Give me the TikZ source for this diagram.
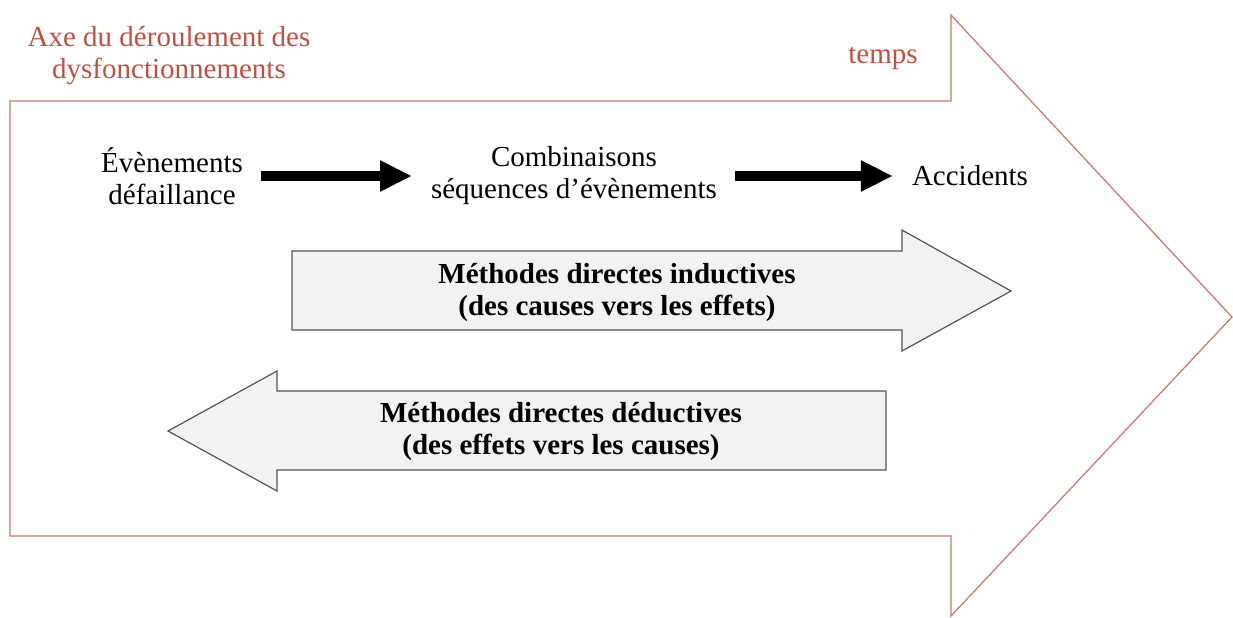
\documentclass[tikz,border=0pt]{standalone}
\usepackage{fontspec}
\setmainfont{Liberation Serif}
\usetikzlibrary{arrows.meta}
\definecolor{axerouge}{RGB}{196,78,62}
\definecolor{traitaxe}{RGB}{208,115,100}
\definecolor{fondfleche}{RGB}{242,242,242}
\definecolor{bordfleche}{RGB}{85,85,85}
\begin{document}
\begin{tikzpicture}[x=0.5pt,y=-0.5pt]
\tikzstyle{fleche}=[-{Triangle[length=16pt,width=14.5pt]},line width=5pt,shorten <=5.5pt,shorten >=6pt]
\tikzset{etape/.style={align=center,font=\fontsize{14.5}{16}\selectfont},
titre/.style={etape,text=axerouge},
methode/.style={etape,font=\fontsize{14.5}{16}\selectfont\bfseries},
bloc/.style={draw=bordfleche,fill=fondfleche,line width=0.6pt}}
\useasboundingbox (0,0) rectangle (1233,617);

% grande fleche du temps
\draw[traitaxe,line width=0.6pt] (10,101) -- (951,101) -- (951,15) -- (1232,317) -- (951,616) -- (951,536) -- (10,536) -- cycle;
\node[titre] (axe) at (169,56) {Axe du déroulement des\\dysfonctionnements};
\node[titre] (temps) at (883,58) {temps};

\node[etape] (ev) at (172,176) {Évènements\\défaillance};
\node[etape] (comb) at (574,176) {Combinaisons\\séquences d’évènements};
\node[etape] (acc) at (970,176) {Accidents};

\draw[fleche] (ev.east) -- (comb.west);
\draw[fleche] (comb.east) -- (acc.west);

% methodes
\draw[bloc] (292,251) -- (902,251) -- (902,230) -- (1011,291) -- (902,351) -- (902,330) -- (292,330) -- cycle;
\node[methode] (induc) at (617,293) {Méthodes directes inductives\\(des causes vers les effets)};
\draw[bloc] (886,391) -- (277,391) -- (277,371) -- (168,431) -- (277,491) -- (277,470) -- (886,470) -- cycle;
\node[methode] (deduc) at (561,432) {Méthodes directes déductives\\(des effets vers les causes)};

\end{tikzpicture}
\end{document}
